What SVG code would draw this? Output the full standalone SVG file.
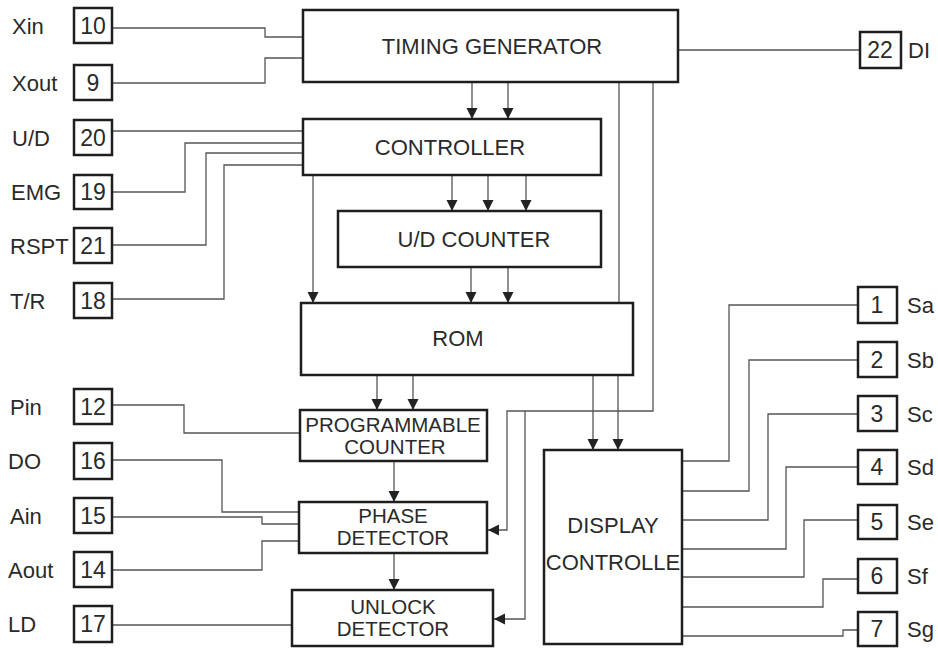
<svg xmlns="http://www.w3.org/2000/svg" width="938" height="648" viewBox="0 0 938 648">
<style>
.blk{fill:#fff;stroke:#1e1e1e;stroke-width:2.5}
.pin{fill:#fff;stroke:#1e1e1e;stroke-width:2.5}
.w{fill:none;stroke:#555;stroke-width:1.3}
.a{marker-end:url(#ah)}
text{font-family:"Liberation Sans",Arial,sans-serif;fill:#2a2a2a;font-size:22px}
.c{text-anchor:middle}
.t2{font-size:20.5px}
.n{text-anchor:middle;font-size:23px}
</style>
<defs>
<marker id="ah" markerUnits="userSpaceOnUse" markerWidth="12" markerHeight="12" refX="11" refY="6" orient="auto">
<path d="M0,0.5 L11,6 L0,11.5 z" fill="#222"/>
</marker>
</defs>
<g id="connectors">
<path class="w" d="M113,28 H265 V37 H303"/>
<path class="w" d="M113,83 H265 V58 H303"/>
<path class="w" d="M678,50 H860"/>
<path class="w" d="M112,131 H302"/>
<path class="w" d="M112,192 H185 V143 H302"/>
<path class="w" d="M112,245 H206 V153 H302"/>
<path class="w" d="M112,299 H224 V165 H302"/>
<path class="w a" d="M472,82 V119"/>
<path class="w a" d="M508,82 V119"/>
<path class="w a" d="M452,175 V211"/>
<path class="w a" d="M488,175 V211"/>
<path class="w a" d="M526,175 V211"/>
<path class="w a" d="M313,175 V303"/>
<path class="w a" d="M471,267 V303"/>
<path class="w a" d="M508,267 V303"/>
<path class="w" d="M619,82 V303"/>
<path class="w a" d="M653,82 V411 H507 V530 H488"/>
<path class="w a" d="M525,411 V619 H494"/>
<path class="w a" d="M377,375 V410"/>
<path class="w a" d="M413,375 V410"/>
<path class="w a" d="M593,375 V450"/>
<path class="w a" d="M618,375 V450"/>
<path class="w a" d="M394,461 V502"/>
<path class="w a" d="M394,553 V590"/>
<path class="w" d="M112,405 H184 V433 H300"/>
<path class="w" d="M112,460 H222 V512 H299"/>
<path class="w" d="M112,517 H262 V524 H299"/>
<path class="w" d="M112,570 H262 V541 H299"/>
<path class="w" d="M112,625 H292"/>
<path class="w" d="M858,305 H729 V461 H682"/>
<path class="w" d="M858,360 H749 V491 H682"/>
<path class="w" d="M858,414 H768 V520 H682"/>
<path class="w" d="M858,467 H786 V549 H682"/>
<path class="w" d="M858,520 H804 V577 H682"/>
<path class="w" d="M858,579 H823 V607 H682"/>
<path class="w" d="M858,630 H843 V636 H682"/>
</g>
<g id="timing_generator"><rect class="blk" x="303" y="10" width="375" height="72"/><text class="c" x="492" y="54">TIMING GENERATOR</text></g>
<g id="controller"><rect class="blk" x="303" y="119" width="298" height="56"/><text class="c" x="450" y="155">CONTROLLER</text></g>
<g id="ud_counter"><rect class="blk" x="338" y="211" width="263" height="56"/><text class="c" x="474" y="247">U/D COUNTER</text></g>
<g id="rom"><rect class="blk" x="301" y="303" width="332" height="72"/><text class="c" x="458" y="346">ROM</text></g>
<g id="programmable_counter"><rect class="blk" x="300" y="410" width="187" height="51"/><text class="c t2" x="393" y="432">PROGRAMMABLE</text><text class="c t2" x="395" y="454">COUNTER</text></g>
<g id="phase_detector"><rect class="blk" x="299" y="502" width="188" height="51"/><text class="c t2" x="393" y="523">PHASE</text><text class="c t2" x="393" y="545">DETECTOR</text></g>
<g id="unlock_detector"><rect class="blk" x="292" y="590" width="201" height="56"/><text class="c t2" x="393" y="614">UNLOCK</text><text class="c t2" x="393" y="636">DETECTOR</text></g>
<g id="display_controller"><rect class="blk" x="544" y="450" width="138" height="194"/><text class="c" x="613" y="533">DISPLAY</text><text class="c" x="613" y="570">CONTROLLE</text></g>
<g id="pin10"><rect class="pin" x="74" y="8" width="38" height="35"/><text class="n" x="93" y="34">10</text><text x="12" y="34">Xin</text></g>
<g id="pin9"><rect class="pin" x="74" y="65" width="38" height="35"/><text class="n" x="93" y="91">9</text><text x="12" y="91">Xout</text></g>
<g id="pin20"><rect class="pin" x="74" y="120" width="38" height="35"/><text class="n" x="93" y="146">20</text><text x="12" y="146">U/D</text></g>
<g id="pin19"><rect class="pin" x="74" y="175" width="38" height="34"/><text class="n" x="93" y="200">19</text><text x="11" y="200">EMG</text></g>
<g id="pin21"><rect class="pin" x="74" y="228" width="38" height="35"/><text class="n" x="93" y="254">21</text><text x="10" y="254">RSPT</text></g>
<g id="pin18"><rect class="pin" x="74" y="283" width="38" height="35"/><text class="n" x="93" y="309">18</text><text x="10" y="309">T/R</text></g>
<g id="pin12"><rect class="pin" x="74" y="389" width="38" height="35"/><text class="n" x="93" y="415">12</text><text x="10" y="415">Pin</text></g>
<g id="pin16"><rect class="pin" x="74" y="443" width="38" height="36"/><text class="n" x="93" y="469">16</text><text x="8" y="469">DO</text></g>
<g id="pin15"><rect class="pin" x="74" y="498" width="38" height="35"/><text class="n" x="93" y="524">15</text><text x="10" y="524">Ain</text></g>
<g id="pin14"><rect class="pin" x="74" y="552" width="38" height="35"/><text class="n" x="93" y="578">14</text><text x="8" y="578">Aout</text></g>
<g id="pin17"><rect class="pin" x="74" y="606" width="38" height="36"/><text class="n" x="93" y="632">17</text><text x="8" y="632">LD</text></g>
<g id="pin22"><rect class="pin" x="860" y="32" width="41" height="36"/><text class="n" x="880" y="58">22</text><text x="908" y="58">DI</text></g>
<g id="pin1"><rect class="pin" x="858" y="287" width="39" height="36"/><text class="n" x="877" y="313">1</text><text x="907" y="313">Sa</text></g>
<g id="pin2"><rect class="pin" x="858" y="342" width="39" height="35"/><text class="n" x="877" y="368">2</text><text x="907" y="368">Sb</text></g>
<g id="pin3"><rect class="pin" x="858" y="396" width="39" height="35"/><text class="n" x="877" y="422">3</text><text x="907" y="422">Sc</text></g>
<g id="pin4"><rect class="pin" x="858" y="450" width="39" height="34"/><text class="n" x="877" y="475">4</text><text x="907" y="475">Sd</text></g>
<g id="pin5"><rect class="pin" x="858" y="505" width="39" height="34"/><text class="n" x="877" y="530">5</text><text x="907" y="530">Se</text></g>
<g id="pin6"><rect class="pin" x="858" y="559" width="39" height="34"/><text class="n" x="877" y="584">6</text><text x="907" y="584">Sf</text></g>
<g id="pin7"><rect class="pin" x="858" y="612" width="39" height="34"/><text class="n" x="877" y="637">7</text><text x="907" y="637">Sg</text></g>
</svg>
